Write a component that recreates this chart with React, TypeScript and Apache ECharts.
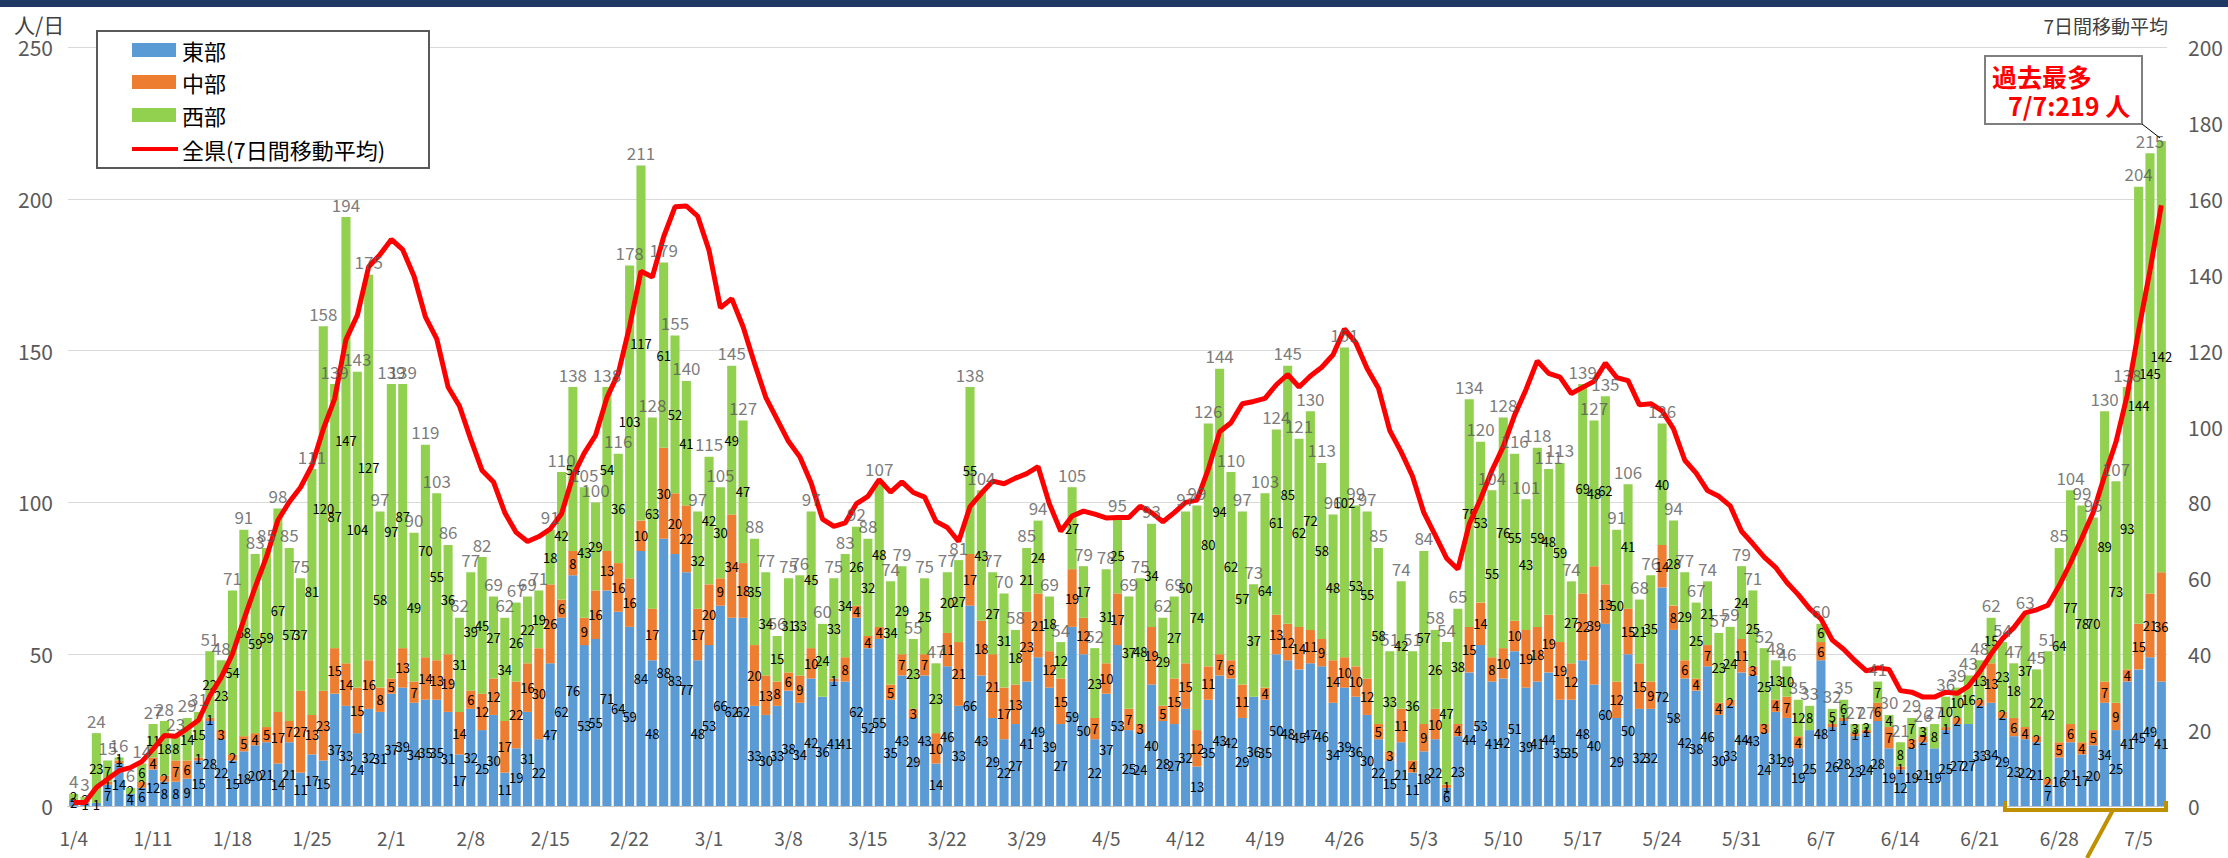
import React, { useEffect, useRef } from "react";
import * as echarts from "echarts";

const categories: string[] = [
  "1/4","1/5","1/6","1/7","1/8","1/9","1/10","1/11","1/12","1/13","1/14","1/15","1/16","1/17","1/18","1/19","1/20","1/21","1/22","1/23","1/24","1/25","1/26","1/27","1/28","1/29","1/30","1/31",
  "2/1","2/2","2/3","2/4","2/5","2/6","2/7","2/8","2/9","2/10","2/11","2/12","2/13","2/14","2/15","2/16","2/17","2/18","2/19","2/20","2/21","2/22","2/23","2/24","2/25","2/26","2/27","2/28",
  "3/1","3/2","3/3","3/4","3/5","3/6","3/7","3/8","3/9","3/10","3/11","3/12","3/13","3/14","3/15","3/16","3/17","3/18","3/19","3/20","3/21","3/22","3/23","3/24","3/25","3/26","3/27","3/28","3/29","3/30","3/31",
  "4/1","4/2","4/3","4/4","4/5","4/6","4/7","4/8","4/9","4/10","4/11","4/12","4/13","4/14","4/15","4/16","4/17","4/18","4/19","4/20","4/21","4/22","4/23","4/24","4/25","4/26","4/27","4/28","4/29","4/30",
  "5/1","5/2","5/3","5/4","5/5","5/6","5/7","5/8","5/9","5/10","5/11","5/12","5/13","5/14","5/15","5/16","5/17","5/18","5/19","5/20","5/21","5/22","5/23","5/24","5/25","5/26","5/27","5/28","5/29","5/30","5/31",
  "6/1","6/2","6/3","6/4","6/5","6/6","6/7","6/8","6/9","6/10","6/11","6/12","6/13","6/14","6/15","6/16","6/17","6/18","6/19","6/20","6/21","6/22","6/23","6/24","6/25","6/26","6/27","6/28","6/29","6/30",
  "7/1","7/2","7/3","7/4","7/5","7/6","7/7",
];

// 東部
const east: number[] = [
  2,1,1,7,14,4,6, 12,8,8,9,15,28,22, 15,18,20,21,14,21,11, 17,15,37,33,24,32,31,
  37,39,34,35,35,31,17, 32,25,30,11,19,31,22, 47,62,76,53,55,71,64, 59,84,48,88,83,77,48,
  53,66,62,62,33,30,33, 38,34,42,36,41,41,62, 52,55,35,43,29,43,14, 46,33,66,43,29,22,27,
  41,49,39,27,59,50,22, 37,53,25,24,40,28,27, 32,13,35,43,42,29,36, 35,50,48,45,47,46,34,
  39,36,30,22,15,21,11, 18,22,6,23,44,53,41, 42,51,39,41,44,35,35, 48,40,60,29,50,32,32,
  72,58,42,38,46,30,33, 44,43,24,31,29,19,25, 48,26,28,23,24,28,19, 12,19,21,19,25,27,27,
  33,34,29,23,22,21,7, 16,21,17,20,34,25,41, 45,49,41,
];
// 中部
const central: number[] = [
  0,0,0,1,1,0,2, 4,2,7,6,1,1,3, 2,5,4,5,17,7,27, 13,23,15,14,15,16,8,
  5,13,7,14,13,19,14, 6,12,12,17,22,16,30, 26,6,8,9,16,13,16, 16,10,17,30,20,22,17,
  20,9,34,18,20,13,8, 6,9,10,0,1,8,4, 4,4,5,7,3,7,10, 11,21,17,18,21,17,13,
  23,21,12,15,19,12,7, 10,17,7,3,19,5,15, 15,12,11,7,6,11,0, 4,13,12,14,11,9,14,
  10,10,12,5,3,11,4, 9,10,1,4,15,14,8, 10,10,19,18,19,19,12, 22,39,13,12,15,15,9,
  14,8,6,4,7,4,2, 11,3,3,4,7,4,0, 6,1,1,1,1,6,7, 1,3,2,0,1,2,0,
  2,13,2,6,4,2,2, 5,6,4,5,7,9,4, 15,21,36,
];
// 西部
const west: number[] = [
  2,2,23,7,1,2,6, 11,18,8,14,15,22,23, 54,68,59,59,67,57,37, 81,120,87,147,104,127,58,
  97,87,49,70,55,36,31, 39,45,27,34,26,22,19, 18,42,54,43,29,54,36, 103,117,63,61,52,41,32,
  42,30,49,47,35,34,15, 31,33,45,24,33,34,26, 32,48,34,29,23,25,23, 20,27,55,43,27,31,18,
  21,24,18,12,27,17,23, 31,25,37,48,34,29,27, 50,74,80,94,62,57,37, 64,61,85,62,72,58,48,
  102,53,55,58,33,42,36, 57,26,47,38,75,53,55, 76,55,43,59,48,59,27, 69,48,62,50,41,21,35,
  40,28,29,25,21,23,24, 24,25,25,13,10,12,8, 6,5,6,3,2,7,4, 8,7,3,8,10,10,16,
  13,15,23,18,37,22,42, 64,77,78,70,89,73,93, 144,145,142,
];
// 全県(7日間移動平均)
const avg7: number[] = [
  0.9,0.9,4.9,7.1,9.3,10.1,11.7, 15.0,18.6,18.4,20.4,22.6,29.0,33.9, 40.1,49.1,57.7,65.7,75.3,80.1,84.0,
  89.7,99.3,107.3,122.9,129.3,142.1,145.3, 149.3,146.6,139.6,128.9,123.1,110.4,105.4,
  96.6,88.4,85.4,77.3,72.1,69.7,71.0, 73.0,77.0,86.9,93.0,97.7,107.6,114.0,
  126.4,140.9,139.4,150.0,157.9,158.1,155.4, 146.4,131.3,133.7,126.3,116.7,107.7,101.9,
  96.1,92.0,85.1,75.6,73.7,74.6,79.7, 81.6,86.0,82.7,85.4,82.6,81.4,75.0,
  73.4,69.7,78.9,82.4,85.6,84.9,86.4, 87.6,89.4,79.6,72.4,76.4,77.7,76.9,
  75.9,76.0,76.0,79.0,77.3,74.9,77.3, 80.0,80.6,88.7,98.6,101.0,106.0,106.6,
  107.4,111.0,113.7,110.4,113.3,115.6,118.9, 125.7,122.1,115.3,110.1,98.9,93.3,86.9,
  77.3,71.4,65.3,62.4,74.3,80.9,88.4, 94.7,103.0,109.7,117.3,114.0,113.0,108.7,
  110.3,111.9,116.7,112.9,112.1,105.7,106.0, 104.1,99.4,91.1,87.7,83.1,81.6,79.1,
  72.4,69.1,65.6,62.9,58.9,55.7,52.0, 49.3,43.7,41.3,38.3,35.6,36.4,36.0,
  30.4,30.0,28.7,28.7,30.0,29.7,31.6, 35.4,40.1,44.1,47.0,50.9,51.7,52.9,
  58.1,64.1,70.6,77.4,87.0,95.9,108.3, 125.3,141.1,158.3,
];

const seriesNames = ["東部", "中部", "西部", "全県(7日間移動平均)"];
const colors = ["#5B9BD5", "#ED7D31", "#92D050", "#FF0000"];
const FONT = "'Noto Sans CJK JP', 'Noto Sans', sans-serif";

export default function App() {
  const ref = useRef<HTMLDivElement>(null);
  useEffect(() => {
    const chart = echarts.init(ref.current!, null, { renderer: "svg" });
    const total = east.map((v, i) => v + central[i] + west[i]);
    const lastIdx = total.length - 1;
    const segLabel = {
      show: true,
      position: "inside",
      color: "#000000",
      fontSize: 13,
      fontFamily: FONT,
      formatter: (p: any) => (p.value ? String(p.value) : ""),
    };
    const bar = (i: number, data: number[]) => ({
      name: seriesNames[i],
      type: "bar",
      stack: "total",
      data,
      barCategoryGap: "20%",
      itemStyle: { color: colors[i] },
      label: segLabel,
      z: 2,
    });

    const legendRows = [50, 82, 115, 149];
    const legendGraphics: any[] = [
      {
        type: "rect",
        shape: { x: 97, y: 31, width: 332, height: 137 },
        style: { fill: "#FFFFFF", stroke: "#595959", lineWidth: 2 },
        z: 10,
      },
    ];
    for (let i = 0; i < 4; i++) {
      if (i < 3) {
        legendGraphics.push({
          type: "rect",
          shape: { x: 132, y: legendRows[i] - 7, width: 44, height: 14 },
          style: { fill: colors[i] },
          z: 11,
        });
      } else {
        legendGraphics.push({
          type: "line",
          shape: { x1: 132, y1: legendRows[i], x2: 178, y2: legendRows[i] },
          style: { stroke: colors[i], lineWidth: 4 },
          z: 11,
        });
      }
      legendGraphics.push({
        type: "text",
        x: 182,
        y: legendRows[i],
        style: {
          text: seriesNames[i],
          fill: "#000000",
          fontSize: 22,
          fontFamily: FONT,
          textAlign: "left",
          textVerticalAlign: "middle",
        },
        z: 11,
      });
    }

    chart.setOption({
      animation: false,
      backgroundColor: "#FFFFFF",
      grid: { left: 68, right: 61, top: 47, bottom: 52, containLabel: false },
      xAxis: {
        type: "category",
        data: categories,
        axisLine: { lineStyle: { color: "#BFBFBF", width: 1 } },
        axisTick: { show: false },
        axisLabel: { interval: 6, color: "#595959", fontSize: 19, margin: 22, fontFamily: FONT },
      },
      yAxis: [
        {
          type: "value",
          min: 0,
          max: 250,
          interval: 50,
          axisLine: { show: false },
          axisTick: { show: false },
          axisLabel: { color: "#595959", fontSize: 21, margin: 15, fontFamily: FONT },
          splitLine: { lineStyle: { color: "#D9D9D9", width: 1 } },
        },
        {
          type: "value",
          min: 0,
          max: 200,
          interval: 20,
          position: "right",
          axisLine: { show: false },
          axisTick: { show: false },
          axisLabel: { color: "#595959", fontSize: 21, margin: 21, fontFamily: FONT },
          splitLine: { show: false },
        },
      ],
      series: [
        bar(0, east),
        bar(1, central),
        bar(2, west),
        {
          name: "合計",
          type: "scatter",
          data: total,
          symbolSize: 1,
          itemStyle: { color: "rgba(0,0,0,0)" },
          label: {
            show: true,
            position: "top",
            distance: 4,
            color: "#595959",
            fontSize: 17,
            fontFamily: FONT,
            formatter: (p: any) => (p.dataIndex === lastIdx ? "" : String(p.value)),
          },
          z: 6,
        },
        {
          name: seriesNames[3],
          type: "line",
          yAxisIndex: 1,
          data: avg7,
          symbol: "none",
          lineStyle: { color: colors[3], width: 5 },
          itemStyle: { color: colors[3] },
          z: 5,
        },
      ],
      graphic: [
        {
          type: "rect",
          shape: { x: 0, y: 0, width: 2228, height: 7 },
          style: { fill: "#1F3864" },
          z: 20,
        },
        {
          type: "text",
          x: 14,
          y: 24,
          style: { text: "人/日", fill: "#404040", fontSize: 21, fontFamily: FONT, textAlign: "left", textVerticalAlign: "middle" },
        },
        {
          type: "text",
          x: 2168,
          y: 25,
          style: { text: "7日間移動平均", fill: "#404040", fontSize: 19, fontFamily: FONT, textAlign: "right", textVerticalAlign: "middle" },
        },
        ...legendGraphics,
        {
          type: "rect",
          shape: { x: 1985, y: 56, width: 157, height: 68 },
          style: { fill: "#FFFFFF", stroke: "#7F7F7F", lineWidth: 2 },
          z: 12,
        },
        {
          type: "text",
          x: 1992,
          y: 76,
          style: { text: "過去最多", fill: "#FF0000", fontSize: 25, fontWeight: "bold", fontFamily: FONT, textAlign: "left", textVerticalAlign: "middle" },
          z: 13,
        },
        {
          type: "text",
          x: 2008,
          y: 105,
          style: { text: "7/7:219 人", fill: "#FF0000", fontSize: 25, fontWeight: "bold", fontFamily: FONT, textAlign: "left", textVerticalAlign: "middle" },
          z: 13,
        },
        {
          type: "line",
          shape: { x1: 2142, y1: 124, x2: 2160, y2: 138 },
          style: { stroke: "#000000", lineWidth: 1 },
          z: 12,
        },
        {
          type: "polyline",
          shape: { points: [[2005, 801], [2005, 810], [2166, 810], [2166, 801]] },
          style: { stroke: "#BF9000", lineWidth: 4, fill: "none" },
          z: 12,
        },
        {
          type: "line",
          shape: { x1: 2113, y1: 810, x2: 2087, y2: 858 },
          style: { stroke: "#BF9000", lineWidth: 4 },
          z: 12,
        },
      ],
    });
    return () => chart.dispose();
  }, []);
  return <div ref={ref} style={{ position: "absolute", left: 0, top: 0, width: 2228, height: 858 }} />;
}
